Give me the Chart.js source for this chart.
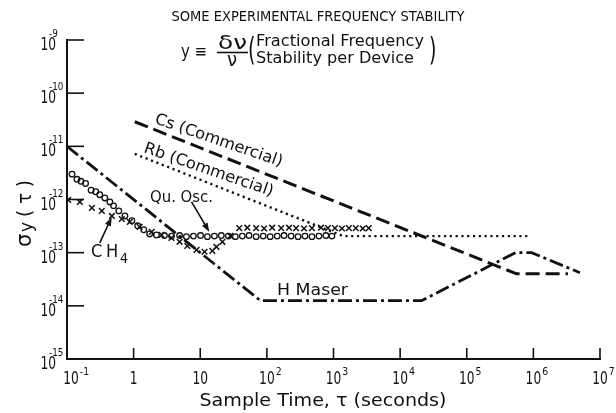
<!DOCTYPE html>
<html>
<head>
<meta charset="utf-8">
<script src="https://cdn.jsdelivr.net/npm/chart.js@4.4.0/dist/chart.umd.min.js"></script>
<style>
  html, body { margin: 0; padding: 0; background: #fff; }
  #wrap { width: 616px; height: 413px; }
</style>
</head>
<body>
<div id="wrap"><canvas id="stabilityChart" width="616" height="413"></canvas></div>
<script>
// sample time tau (s) vs fractional frequency stability sigma_y(tau)
var hMaserTau = [0.1, 80, 2.1e4, 5.4e5, 9.4e5, 5e6];
var hMaserSigma = [1e-11, 1.25e-14, 1.25e-14, 1.0e-13, 1.0e-13, 4.2e-14];

var csTau = [1.04, 5.6e5, 3.3e6];
var csSigma = [2.9e-11, 4.0e-14, 4.0e-14];

var rbTau = [1.04, 1.4e3, 8.3e5];
var rbSigma = [7.2e-12, 2.05e-13, 2.05e-13];

var quOscTau = [0.119, 0.141, 0.162, 0.19, 0.23, 0.27, 0.31, 0.37, 0.44, 0.5, 0.6, 0.74, 0.94, 1.15, 1.42, 1.74,
  2.2, 2.9, 3.7, 4.9, 6.2, 7.9, 10.1, 12.8, 16.3, 20.7, 26.4, 33.6, 42.8, 54, 69, 88, 112, 143, 181, 231, 294, 373,
  475, 605, 769, 946];
var quOscSigma = [3.0e-12, 2.4e-12, 2.2e-12, 2.0e-12, 1.5e-12, 1.4e-12, 1.23e-12, 1.07e-12, 9e-13, 7.6e-13, 6.1e-13,
  4.9e-13, 4.0e-13, 3.2e-13, 2.7e-13, 2.25e-13,
  2.15e-13, 2.1e-13, 2.05e-13, 2.1e-13, 2.0e-13, 2.05e-13, 2.1e-13, 2.0e-13, 2.05e-13, 2.1e-13, 2.05e-13, 2.0e-13,
  2.05e-13, 2.1e-13, 2.0e-13, 2.05e-13, 2.0e-13, 2.05e-13, 2.1e-13, 2.05e-13, 2.0e-13, 2.05e-13, 2.0e-13, 2.05e-13,
  2.1e-13, 2.05e-13];

var ch4Tau = [0.104, 0.156, 0.236, 0.333, 0.471, 0.664, 0.875, 1.23, 1.87, 2.63, 3.7, 4.9, 6.4, 8.8, 11.6, 15.2,
  17.5, 21.5, 28.3, 38.5, 50.8, 69, 91, 120, 164, 215, 274, 361, 475, 648, 825, 1050, 1340, 1700, 2160, 2750, 3380];
var ch4Sigma = [9.8e-13, 9.0e-13, 6.95e-13, 6.1e-13, 4.9e-13, 4.3e-13, 3.8e-13, 3.05e-13, 2.46e-13, 2.16e-13, 1.9e-13,
  1.6e-13, 1.34e-13, 1.13e-13, 1.04e-13, 1.08e-13, 1.29e-13, 1.6e-13, 2.07e-13,
  2.9e-13, 2.95e-13, 2.9e-13, 2.85e-13, 2.95e-13, 2.9e-13, 2.95e-13, 2.9e-13, 2.85e-13, 2.9e-13, 2.95e-13, 2.9e-13,
  2.9e-13, 2.85e-13, 2.9e-13, 2.9e-13, 2.85e-13, 2.9e-13];

// decade ticks: [mantissa text, exponent text]
var xTicks = [1e-1, 1, 10, 1e2, 1e3, 1e4, 1e5, 1e6, 1e7];
var xTickLabels = [['10', '-1'], ['1', ''], ['10', ''], ['10', '2'], ['10', '3'], ['10', '4'], ['10', '5'], ['10', '6'], ['10', '7']];
var yTicks = [1e-9, 1e-10, 1e-11, 1e-12, 1e-13, 1e-14, 1e-15];
var yTickLabels = [['10', '-9'], ['10', '-10'], ['10', '-11'], ['10', '-12'], ['10', '-13'], ['10', '-14'], ['10', '-15']];

var INK = '#111';
var FONT = '"DejaVu Sans"';

function pairs(xs, ys) {
  return xs.map(function (x, i) { return { x: x, y: ys[i] }; });
}

// text helper: optional rotation and horizontal squeeze to a target width
function drawText(ctx, text, x, y, size, opts) {
  opts = opts || {};
  ctx.save();
  ctx.font = size + 'px ' + FONT;
  ctx.fillStyle = INK;
  ctx.textBaseline = opts.baseline || 'alphabetic';
  ctx.textAlign = 'left';
  ctx.translate(x, y);
  if (opts.angle) ctx.rotate(opts.angle);
  var w = ctx.measureText(text).width;
  var sx = opts.width ? opts.width / w : (opts.sx || 1);
  var align = opts.align || 'left';
  var dx = align === 'center' ? -w * sx / 2 : align === 'right' ? -w * sx : 0;
  ctx.translate(dx, 0);
  ctx.scale(sx, 1);
  ctx.fillText(text, 0, 0);
  ctx.restore();
  return w * sx;
}

function drawArrow(ctx, x1, y1, x2, y2) {
  var a = Math.atan2(y2 - y1, x2 - x1);
  var c = Math.cos(a), s = Math.sin(a);
  ctx.save();
  ctx.strokeStyle = INK;
  ctx.fillStyle = INK;
  ctx.lineWidth = 1.6;
  ctx.beginPath();
  ctx.moveTo(x1, y1);
  ctx.lineTo(x2 - 5 * c, y2 - 5 * s);
  ctx.stroke();
  ctx.beginPath();
  ctx.moveTo(x2, y2);
  ctx.lineTo(x2 - 9 * c + 3.2 * s, y2 - 9 * s - 3.2 * c);
  ctx.lineTo(x2 - 9 * c - 3.2 * s, y2 - 9 * s + 3.2 * c);
  ctx.closePath();
  ctx.fill();
  ctx.restore();
}

var decorations = {
  id: 'decorations',
  afterDraw: function (chart) {
    var ctx = chart.ctx;
    var xs = chart.scales.x, ys = chart.scales.y;
    var area = chart.chartArea;

    // inward tick marks
    ctx.save();
    ctx.strokeStyle = INK;
    ctx.lineWidth = 1.6;
    yTicks.forEach(function (v) {
      if (v === ys.min) return;
      var py = ys.getPixelForValue(v);
      ctx.beginPath();
      ctx.moveTo(area.left, py);
      ctx.lineTo(area.left + 17, py);
      ctx.stroke();
    });
    xTicks.forEach(function (v) {
      if (v === xs.min) return;
      var px = xs.getPixelForValue(v);
      ctx.beginPath();
      ctx.moveTo(px, area.bottom);
      ctx.lineTo(px, area.bottom - 11);
      ctx.stroke();
    });
    ctx.restore();

    // tick labels with raised exponents
    yTicks.forEach(function (v, i) {
      var py = ys.getPixelForValue(v);
      var lab = yTickLabels[i];
      drawText(ctx, lab[0], 56, py + 10, 17, { align: 'right', sx: 0.72 });
      drawText(ctx, lab[1], 49, py - 3, 11, { sx: 0.8 });
    });
    xTicks.forEach(function (v, i) {
      var px = xs.getPixelForValue(v);
      var lab = xTickLabels[i];
      var cx = i === 0 ? px + 4 : px;
      var w = drawText(ctx, lab[0], cx, 384, 17, { align: 'center', sx: 0.72 });
      if (lab[1]) drawText(ctx, lab[1], cx + w / 2 + 1, 375, 11, { sx: 0.85 });
    });

    // axis titles
    drawText(ctx, 'Sample Time, \u03c4 (seconds)', 323, 406, 17, { align: 'center', width: 247 });
    drawText(ctx, '\u03c3', 31, 247, 21, { angle: -Math.PI / 2 });
    drawText(ctx, 'y', 32, 232, 17, { angle: -Math.PI / 2 });
    drawText(ctx, '( \u03c4 )', 31, 217, 19, { angle: -Math.PI / 2, width: 37 });

    // heading and definition of y
    drawText(ctx, 'SOME EXPERIMENTAL FREQUENCY STABILITY', 318, 21, 14, { align: 'center', width: 293 });
    drawText(ctx, 'y \u2261', 181, 57, 17, { width: 26 });
    drawText(ctx, '\u03b4\u03bd', 218, 49, 20, { width: 29 });
    ctx.save();
    ctx.strokeStyle = INK;
    ctx.lineWidth = 1.6;
    ctx.beginPath();
    ctx.moveTo(217, 52.5);
    ctx.lineTo(248, 52.5);
    ctx.stroke();
    ctx.restore();
    drawText(ctx, '\u03bd', 232, 66, 20, { align: 'center', sx: 0.9 });
    drawText(ctx, '(', 248, 60, 32, { sx: 0.6 });
    drawText(ctx, 'Fractional Frequency', 256, 46, 16, { width: 168 });
    drawText(ctx, 'Stability per Device', 256, 63, 16, { width: 158 });
    drawText(ctx, ')', 429, 60, 32, { sx: 0.6 });

    // curve labels
    var tilt = 19 * Math.PI / 180;
    drawText(ctx, 'Cs (Commercial)', 154, 123, 16, { angle: tilt, width: 134 });
    drawText(ctx, 'Rb (Commercial)', 143, 152, 16, { angle: tilt, width: 136 });
    drawText(ctx, 'Qu. Osc.', 150, 202, 16, { width: 63 });
    drawText(ctx, 'H Maser', 277, 295, 15, { width: 71 });
    drawText(ctx, 'C', 91, 257, 18, { sx: 0.9 });
    drawText(ctx, 'H', 106, 257, 18, { sx: 0.9 });
    drawText(ctx, '4', 120, 263, 14, { sx: 0.9 });

    drawArrow(ctx, xs.getPixelForValue(7.4), ys.getPixelForValue(9.0e-13),
      xs.getPixelForValue(13.7), ys.getPixelForValue(2.46e-13));
    drawArrow(ctx, xs.getPixelForValue(0.31), ys.getPixelForValue(1.53e-13),
      xs.getPixelForValue(0.47), ys.getPixelForValue(4.7e-13));
  }
};

var ctx = document.getElementById('stabilityChart').getContext('2d');
var stabilityChart = new Chart(ctx, {
  type: 'scatter',
  data: {
    datasets: [
      {
        label: 'H Maser',
        data: pairs(hMaserTau, hMaserSigma),
        showLine: true,
        borderColor: INK,
        borderWidth: 2.8,
        borderDash: [14, 4, 3, 4],
        pointRadius: 0,
        tension: 0
      },
      {
        label: 'Cs (Commercial)',
        data: pairs(csTau, csSigma),
        showLine: true,
        borderColor: INK,
        borderWidth: 3,
        borderDash: [14, 6],
        pointRadius: 0,
        tension: 0
      },
      {
        label: 'Rb (Commercial)',
        data: pairs(rbTau, rbSigma),
        showLine: true,
        borderColor: INK,
        borderWidth: 2.4,
        borderDash: [2.2, 3.6],
        pointRadius: 0,
        tension: 0
      },
      {
        label: 'Qu. Osc.',
        data: pairs(quOscTau, quOscSigma),
        showLine: false,
        pointStyle: 'circle',
        pointRadius: 2.8,
        pointBorderWidth: 1.3,
        pointBorderColor: INK,
        pointBackgroundColor: 'rgba(0,0,0,0)'
      },
      {
        label: 'CH4',
        data: pairs(ch4Tau, ch4Sigma),
        showLine: false,
        pointStyle: 'crossRot',
        pointRadius: 4,
        pointBorderWidth: 1.5,
        pointBorderColor: INK
      }
    ]
  },
  options: {
    responsive: false,
    animation: false,
    layout: { padding: { top: 40, right: 16, left: 0, bottom: 0 } },
    plugins: {
      legend: { display: false },
      tooltip: { enabled: false }
    },
    scales: {
      x: {
        type: 'logarithmic',
        min: 0.1,
        max: 1e7,
        grid: { display: false },
        border: { display: true, color: INK, width: 2 },
        ticks: { display: false },
        afterFit: function (scale) { scale.height = 54; }
      },
      y: {
        type: 'logarithmic',
        min: 1e-15,
        max: 1e-9,
        grid: { display: false },
        border: { display: true, color: INK, width: 2 },
        ticks: { display: false },
        afterFit: function (scale) { scale.width = 67; }
      }
    }
  },
  plugins: [decorations]
});
</script>
</body>
</html>
